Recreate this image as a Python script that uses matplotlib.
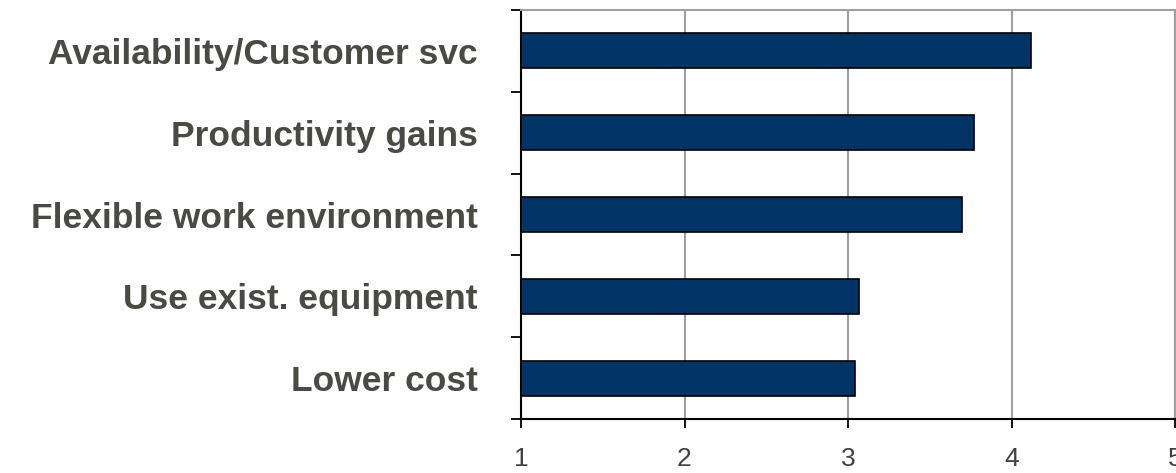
import matplotlib
matplotlib.use("Agg")
import matplotlib.pyplot as plt
import numpy as np

categories = ["Availability/Customer svc", "Productivity gains", "Flexible work environment",
              "Use exist. equipment", "Lower cost"]
values = [4.12, 3.77, 3.70, 3.07, 3.04]
xticks = [1, 2, 3, 4, 5]

plt.rcParams['font.family'] = ['Liberation Sans', 'DejaVu Sans']

fig = plt.figure(figsize=(11.76, 4.73), dpi=100)
ax = fig.add_axes([521/1176, 1 - 419/473, (1175 - 521)/1176, 409/473])

n = len(categories)
ypos = np.arange(n)[::-1]  # first category at top
ax.barh(ypos, [v - 1 for v in values], left=1, height=0.43,
        color="#003366", edgecolor="black", linewidth=1.2, zorder=3)

ax.set_xlim(1, 5)
ax.set_ylim(-0.5, n - 0.5)
ax.set_xticks(xticks)
ax.set_xticklabels([str(t) for t in xticks], fontsize=19, color="#404040")
ax.xaxis.grid(True, color="#a0a0a0", linewidth=1.5, zorder=0)

ax.set_yticks(np.arange(n + 1) - 0.5)
ax.set_yticklabels([])
ax.set_yticks(ypos, minor=True)
ax.set_yticklabels(categories, minor=True, fontsize=25.5, fontweight="bold", color="#4a4a44")
ax.tick_params(axis="y", which="minor", length=0, pad=31)
ax.tick_params(axis="y", which="major", length=7.5, width=1.3, color="black", direction="out")
ax.tick_params(axis="x", length=6.5, width=1.3, color="black", direction="out", pad=14)

for s in ["left", "bottom"]:
    ax.spines[s].set_color("black")
    ax.spines[s].set_linewidth(1.5)
for s in ["top", "right"]:
    ax.spines[s].set_color("#a0a0a0")
    ax.spines[s].set_linewidth(1.5)

fig.savefig("out.png", dpi=100)
